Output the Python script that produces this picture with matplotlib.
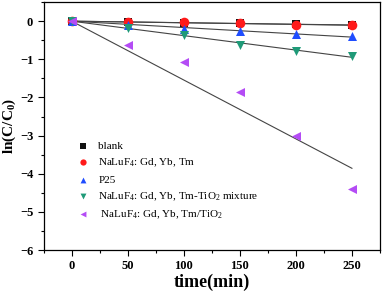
import numpy as np
import matplotlib
matplotlib.use("Agg")
import matplotlib.pyplot as plt
from matplotlib.ticker import MultipleLocator

plt.rcParams['font.family'] = ['Liberation Serif', 'DejaVu Serif']
plt.rcParams['mathtext.fontset'] = 'custom'
plt.rcParams['mathtext.rm'] = 'Liberation Serif'
plt.rcParams['mathtext.bf'] = 'Liberation Serif:bold'

# data
time = [0, 50, 100, 150, 200, 250]
blank = [0, -0.03, -0.04, -0.06, -0.08, -0.10]
nalu = [0, -0.02, -0.03, -0.06, -0.09, -0.11]
p25 = [0, -0.10, -0.20, -0.26, -0.33, -0.40]
mixture = [0, -0.18, -0.35, -0.62, -0.77, -0.92]
composite = [0, -0.63, -1.08, -1.85, -3.02, -4.40]

labels = ['blank',
          'NaLuF$_4$: Gd, Yb, Tm',
          'P25',
          'NaLuF$_4$: Gd, Yb, Tm-TiO$_2$ mixture',
          ' NaLuF$_4$: Gd, Yb, Tm/TiO$_2$']
colors = ['#111111', '#ff1a1a', '#1f4dff', '#1f9a78', '#b44cf5']
markers = ['s', 'o', '^', 'v', '<']
sizes = [34, 48, 42, 42, 42]

fig = plt.figure(figsize=(3.83, 2.97), dpi=100)
ax = fig.add_axes([0.114, 0.158, 0.878, 0.835])

t = np.array(time, dtype=float)
series = [blank, nalu, p25, mixture, composite]
for y, c, m, sz, lab in zip(series, colors, markers, sizes, labels):
    y = np.array(y)
    # linear fit through the origin
    k = np.sum(t * y) / np.sum(t * t)
    ax.plot([0, 250], [0, k * 250], color='#444444', lw=0.8, zorder=1)
    ax.scatter(t, y, marker=m, color=c, s=sz, label=lab, zorder=3, linewidths=0)

ax.set_xlim(-25, 275)
ax.set_ylim(-6, 0.5)
ax.xaxis.set_major_locator(MultipleLocator(50))
ax.xaxis.set_minor_locator(MultipleLocator(25))
ax.yaxis.set_major_locator(MultipleLocator(1))
ax.yaxis.set_minor_locator(MultipleLocator(0.5))
ax.tick_params(which='both', direction='out', top=False, right=False, width=0.8)
ax.tick_params(which='major', length=4, labelsize=9)
ax.tick_params(which='minor', length=2)
for lbl in ax.get_xticklabels() + ax.get_yticklabels():
    lbl.set_fontweight('bold')
for s in ax.spines.values():
    s.set_linewidth(0.9)

ax.set_xlabel('time(min)', fontsize=13, fontweight='bold', labelpad=1)
ax.set_ylabel(r'$\mathbf{ln(C/C_0)}$', fontsize=11, labelpad=1)

ax.legend(loc='lower left', bbox_to_anchor=(0.07, 0.1), frameon=False,
          fontsize=8, handletextpad=0.4, labelspacing=0.5, markerscale=0.65,
          borderaxespad=0)

fig.savefig('out.png', dpi=100)
